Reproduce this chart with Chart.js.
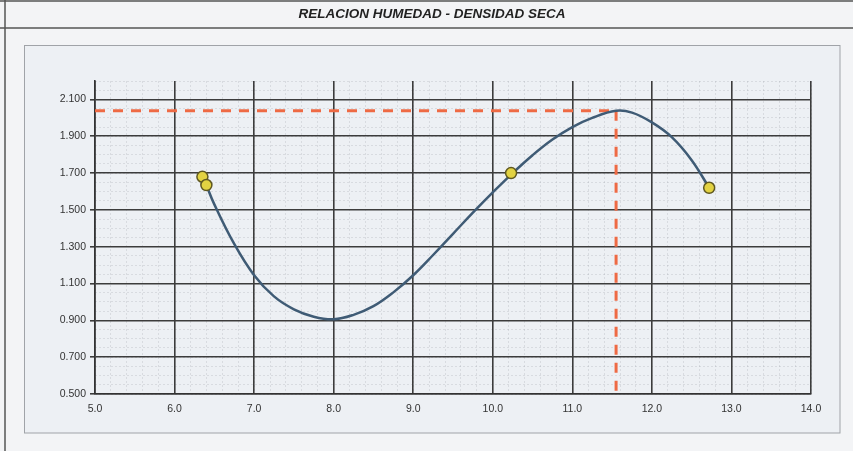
<!DOCTYPE html>
<html>
<head>
<meta charset="utf-8">
<script src="https://cdn.jsdelivr.net/npm/chart.js@4"></script>
<style>
  html, body { margin: 0; padding: 0; background: #f3f4f6; }
  #wrap { width: 853px; height: 451px; position: relative; }
</style>
</head>
<body>
<div id="wrap"><canvas id="c" width="853" height="451"></canvas></div>
<script>
// ---- data ----
const chartTitle = 'RELACION HUMEDAD - DENSIDAD SECA';
const curveMoisture = [6.40, 6.50, 6.75, 7.00, 7.25, 7.50, 7.75, 8.00, 8.25, 8.50, 8.75, 9.00, 9.25, 9.50, 9.75, 10.00, 10.25, 10.50, 10.75, 11.00, 11.25, 11.55, 11.75, 12.00, 12.25, 12.50, 12.72];
const curveDensity  = [1.635, 1.53, 1.315, 1.145, 1.03, 0.96, 0.92, 0.906, 0.93, 0.977, 1.052, 1.145, 1.255, 1.37, 1.485, 1.595, 1.70, 1.797, 1.882, 1.95, 2.00, 2.038, 2.028, 1.975, 1.895, 1.77, 1.62];
const sampleMoisture = [6.35, 6.40, 10.23, 12.72];
const sampleDensity  = [1.68, 1.635, 1.70, 1.62];
const optimumMoisture = 11.55;
const maxDryDensity = 2.038;
const xTickValues = [5, 6, 7, 8, 9, 10, 11, 12, 13, 14];
const yTickValues = [0.5, 0.7, 0.9, 1.1, 1.3, 1.5, 1.7, 1.9, 2.1];
const xMin = 5, xMax = 14, yMin = 0.5, yMax = 2.2;

const curvePts = curveMoisture.map((x, i) => ({ x: x, y: curveDensity[i] }));
const samplePts = sampleMoisture.map((x, i) => ({ x: x, y: sampleDensity[i] }));
const hLine = [{ x: xMin, y: maxDryDensity }, { x: optimumMoisture, y: maxDryDensity }];
const vLine = [{ x: optimumMoisture, y: maxDryDensity }, { x: optimumMoisture, y: yMin }];

const frame = {
  id: 'frame',
  beforeDraw(chart) {
    const ctx = chart.ctx;
    ctx.save();
    ctx.fillStyle = '#f3f4f6';
    ctx.fillRect(0, 0, chart.width, chart.height);
    ctx.strokeStyle = '#555';
    ctx.lineWidth = 1.5;
    ctx.beginPath();
    ctx.moveTo(0, 1); ctx.lineTo(853, 1);
    ctx.moveTo(0, 28); ctx.lineTo(853, 28);
    ctx.moveTo(5, 0); ctx.lineTo(5, 451);
    ctx.stroke();
    ctx.fillStyle = '#edf0f4';
    ctx.fillRect(24.5, 45.5, 815.5, 387.5);
    ctx.strokeStyle = '#a0a3a8';
    ctx.lineWidth = 1;
    ctx.strokeRect(24.5, 45.5, 815.5, 387.5);
    ctx.fillStyle = '#222';
    ctx.font = "italic bold 13.5px 'Liberation Sans', Arial, sans-serif";
    ctx.textAlign = 'center';
    ctx.textBaseline = 'middle';
    ctx.fillText(chartTitle, 432, 14);
    ctx.restore();
  }
};

new Chart(document.getElementById('c'), {
  type: 'scatter',
  data: {
    datasets: [
      { data: hLine, showLine: true, borderColor: '#ee6a44', borderWidth: 3, borderDash: [10, 8], pointRadius: 0, xAxisID: 'x', yAxisID: 'y', order: 3 },
      { data: vLine, showLine: true, borderColor: '#ee6a44', borderWidth: 3, borderDash: [10, 8], pointRadius: 0, xAxisID: 'x', yAxisID: 'y', order: 3 },
      { data: curvePts, showLine: true, borderColor: '#3f5b75', borderWidth: 2.5, pointRadius: 0, tension: 0.4, xAxisID: 'x', yAxisID: 'y', order: 2 },
      { data: samplePts, showLine: false, backgroundColor: '#e2d242', borderColor: '#5f5820', borderWidth: 1.5, pointRadius: 5.5, xAxisID: 'x', yAxisID: 'y', order: 1 }
    ]
  },
  options: {
    responsive: false,
    animation: false,
    layout: { padding: { top: 81, left: 0, right: 42, bottom: 0 } },
    plugins: {
      legend: { display: false },
      tooltip: { enabled: false },
      title: { display: false }
    },
    scales: {
      xm: {
        type: 'linear', position: 'bottom', min: xMin, max: xMax,
        ticks: { display: false, stepSize: 0.2 },
        grid: { color: 'rgba(140,145,155,0.22)', lineWidth: 1, drawTicks: false },
        border: { display: false, dash: [2, 2] },
        afterFit(s) { s.height = 0; }
      },
      ym: {
        type: 'linear', position: 'left', min: yMin, max: yMax,
        ticks: { display: false, stepSize: 0.05 },
        grid: { color: 'rgba(140,145,155,0.22)', lineWidth: 1, drawTicks: false },
        border: { display: false, dash: [2, 2] },
        afterFit(s) { s.width = 0; }
      },
      x: {
        type: 'linear', position: 'bottom', min: xMin, max: xMax,
        afterBuildTicks(s) { s.ticks = xTickValues.map(v => ({ value: v })); },
        afterFit(s) { s.height = 57; },
        ticks: {
          callback: v => Number(v).toFixed(1),
          color: '#333', padding: 9,
          font: { family: "'Liberation Sans', Arial, sans-serif", size: 10.5 },
          maxRotation: 0, autoSkip: false
        },
        grid: { color: '#3c3c3c', lineWidth: 1.6, drawTicks: false },
        border: { display: true, color: '#333', width: 1.6 }
      },
      y: {
        type: 'linear', position: 'left', min: yMin, max: yMax,
        afterBuildTicks(s) { s.ticks = yTickValues.map(v => ({ value: v })); },
        afterFit(s) { s.width = 95; },
        ticks: {
          callback: v => Number(v).toFixed(3),
          color: '#333', padding: 4,
          font: { family: "'Liberation Sans', Arial, sans-serif", size: 10.5 },
          autoSkip: false
        },
        grid: { color: '#3c3c3c', lineWidth: 1.6, drawTicks: true, tickLength: 5 },
        border: { display: true, color: '#333', width: 1.6 }
      }
    }
  },
  plugins: [frame]
});
</script>
</body>
</html>
